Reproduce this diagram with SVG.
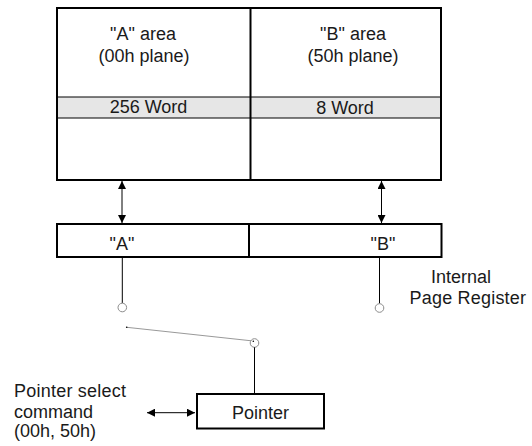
<svg xmlns="http://www.w3.org/2000/svg" width="532" height="446" viewBox="0 0 532 446">
<style>
text{font-family:"Liberation Sans",Arial,sans-serif;font-size:18px;fill:#1a1a1a}
.c{text-anchor:middle}
.box{fill:none;stroke:#000;stroke-width:2}
.thin{stroke:#000;stroke-width:1;fill:none}
.sw{fill:#fff;stroke:#8c8c8c;stroke-width:1}
</style>
<defs>
<marker id="ah" viewBox="0 0 10 10" refX="10" refY="5" markerWidth="8" markerHeight="8" markerUnits="userSpaceOnUse" orient="auto-start-reverse">
<path d="M0,0 L10,5 L0,10 Z" fill="#000"/>
</marker>
</defs>
<rect x="0" y="0" width="532" height="446" fill="#fff"/>
<g id="memory">
<rect x="57" y="97" width="384" height="21" fill="#e6e6e6"/>
<line x1="57" y1="97" x2="441" y2="97" class="thin"/>
<line x1="57" y1="118" x2="441" y2="118" class="thin"/>
<rect x="57" y="8" width="384" height="172" class="box"/>
<line x1="250.5" y1="8" x2="250.5" y2="180" class="box"/>
<text x="143" y="39.5" class="c">"A" area</text>
<text x="144" y="61.5" class="c">(00h plane)</text>
<text x="353" y="39.5" class="c">"B" area</text>
<text x="353" y="61.5" class="c">(50h plane)</text>
<text x="148.5" y="113" class="c">256 Word</text>
<text x="345" y="113.5" class="c">8 Word</text>
</g>
<g id="register">
<rect x="57" y="224" width="384.5" height="33" class="box"/>
<line x1="249" y1="224" x2="249" y2="257" class="box"/>
<text x="122" y="250" class="c">"A"</text>
<text x="383" y="250" class="c">"B"</text>
<text x="431" y="282.5">Internal</text>
<text x="409.5" y="303.5" textLength="116.5">Page Register</text>
</g>
<g id="pointer">
<rect x="197" y="394" width="127" height="34.5" class="box"/>
<text x="260.5" y="419" class="c">Pointer</text>
</g>
<g id="command">
<text x="14" y="396.5" textLength="112">Pointer select</text>
<text x="14" y="417.5">command</text>
<text x="14" y="437">(00h, 50h)</text>
</g>
<g id="connectors">
<line x1="122" y1="181" x2="122" y2="223" class="thin" marker-start="url(#ah)" marker-end="url(#ah)"/>
<line x1="381.5" y1="181" x2="381.5" y2="223" class="thin" marker-start="url(#ah)" marker-end="url(#ah)"/>
<line x1="122.3" y1="258" x2="122.3" y2="303" class="thin"/>
<line x1="379.5" y1="258" x2="379.5" y2="303.5" class="thin"/>
<circle cx="122.3" cy="307.5" r="4.3" class="sw"/>
<circle cx="379.5" cy="308" r="4.3" class="sw"/>
<line x1="126.7" y1="327.3" x2="253.3" y2="341" stroke="#999" stroke-width="1"/>
<circle cx="126.7" cy="327.3" r="0.8" fill="#000"/>
<circle cx="254.5" cy="343" r="4.3" class="sw"/>
<circle cx="253.3" cy="341.2" r="0.8" fill="#000"/>
<line x1="254.5" y1="347.3" x2="254.5" y2="393" class="thin"/>
<line x1="147" y1="412.7" x2="195" y2="412.7" class="thin" marker-start="url(#ah)" marker-end="url(#ah)"/>
</g>
</svg>
